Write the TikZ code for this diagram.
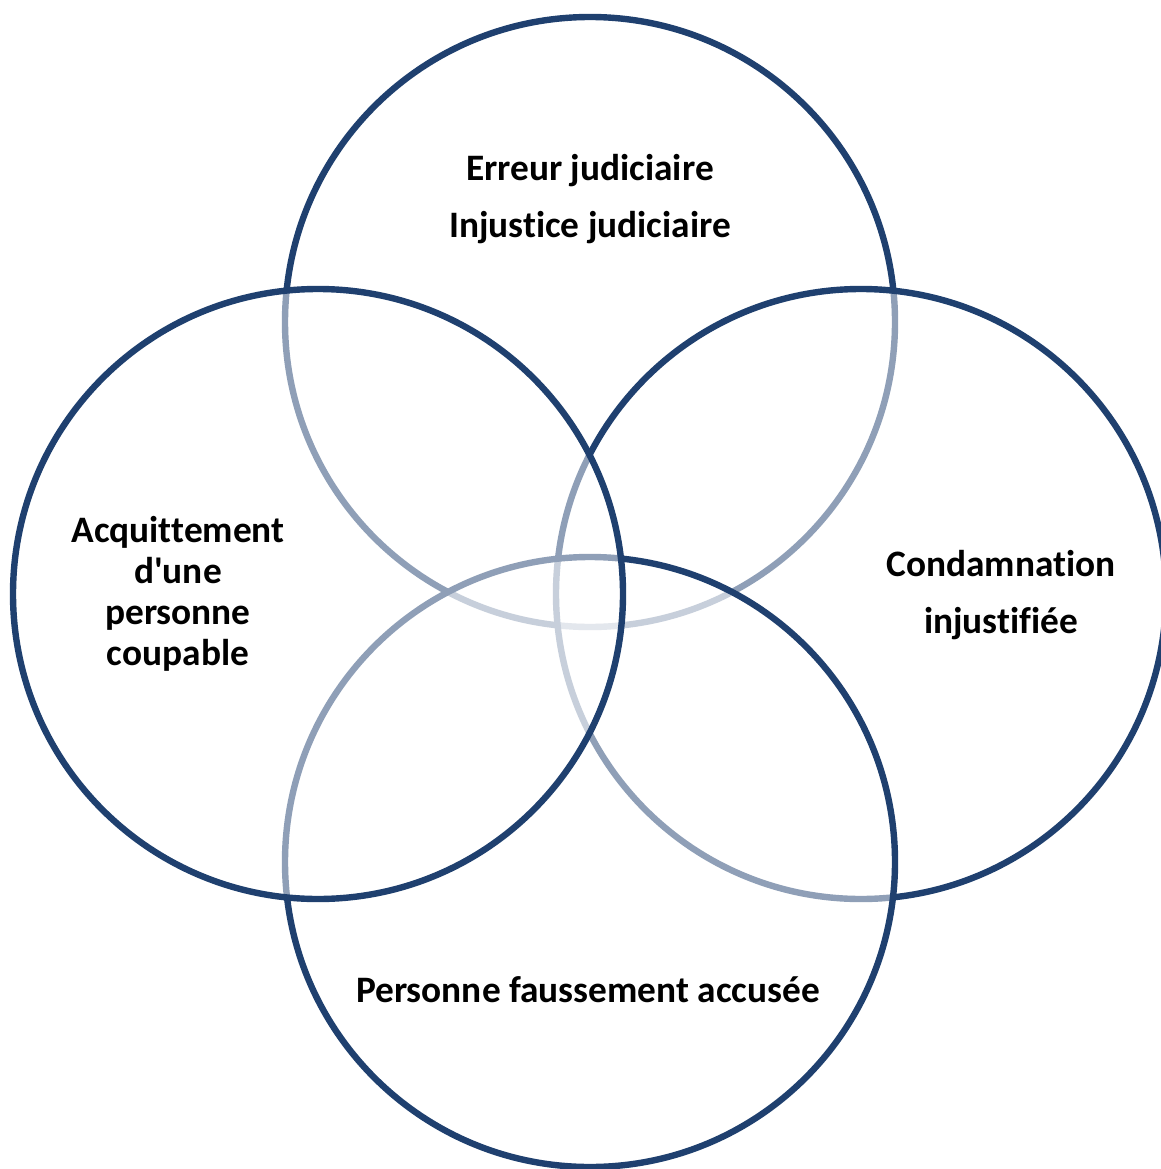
\documentclass[tikz,border=0pt]{standalone}
\usepackage{fontspec}
\setmainfont{Carlito}[Ligatures={NoCommon}]
\definecolor{ringblue}{RGB}{31,64,111}
\tikzset{
  ring/.style={draw=ringblue, line width=4.8pt, fill=white, fill opacity=0.5, draw opacity=1},
  label/.style={inner sep=0.75pt, align=center, font=\bfseries\fontsize{28}{43}\selectfont},
}
\begin{document}
\begin{tikzpicture}[x=0.75pt,y=0.75pt,yscale=-1,xscale=1]
        \useasboundingbox (0,0) rectangle (1160,1169);
        % Circles, back to front
        \draw [ring] (590,322) circle (305);
        \draw [ring] (861,594) circle (305);
        \draw [ring] (590,862) circle (305);
        \draw [ring] (318,594) circle (305);

        % Text Nodes
        \node [label] (erreur) at (590,199) {Erreur judiciaire\\Injustice judiciaire};
        \node [label, font=\bfseries\fontsize{28}{30.75}\selectfont] (acquit) at (178,594) {Acquittement\\d\textquotesingle une\\personne\\coupable};
        \node [label] (condamn) at (1001,595) {Condamnation\\injustifiée};
        \node [label] (accuse) at (588,990) {Personne faussement accusée};
\end{tikzpicture}
\end{document}
